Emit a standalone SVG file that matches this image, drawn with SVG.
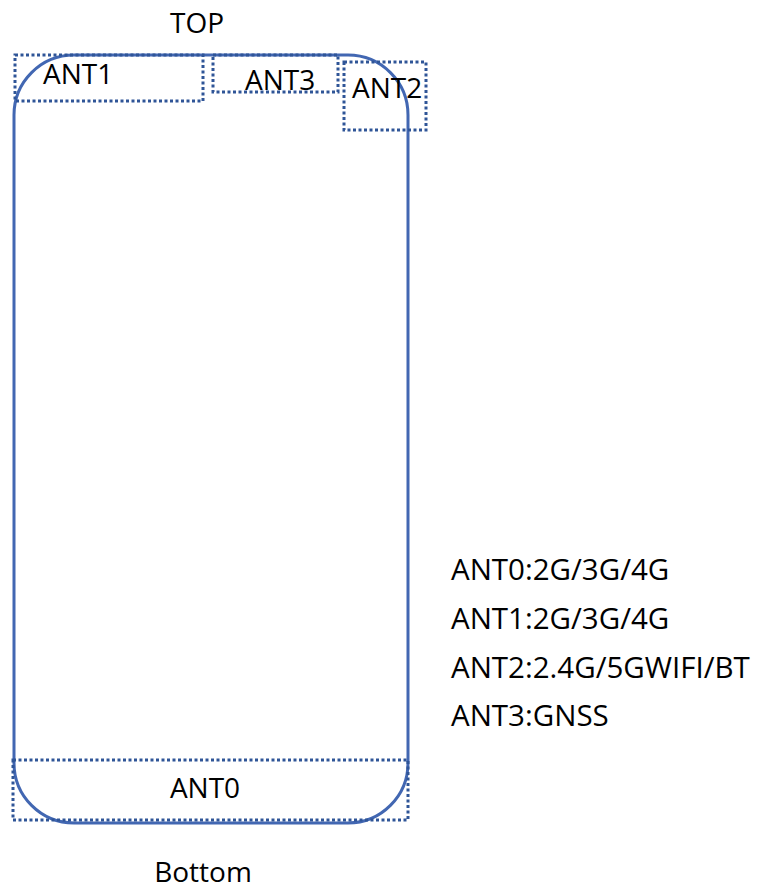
<svg xmlns="http://www.w3.org/2000/svg" width="761" height="892" viewBox="0 0 761 892">
<style>
.t{font-family:"Open Sans","Liberation Sans",Arial,sans-serif;fill:#000}
.lbl{font-size:28px}
.leg{font-size:29.5px}
.ant{fill:none;stroke:#2F5597;stroke-width:3;stroke-dasharray:3 2.5}
.body{fill:none;stroke:#4267B2;stroke-width:3}
</style>
<rect width="761" height="892" fill="#fff"/>
<g id="phone"><rect class="body" x="14" y="55" width="394" height="768" rx="60" ry="60"/></g>
<g id="ant1"><rect class="ant" x="15" y="55" width="188" height="46"/><text class="t lbl" x="43" y="84">ANT1</text></g>
<g id="ant3"><rect class="ant" x="213" y="55" width="125" height="37"/><text class="t lbl" x="245" y="90">ANT3</text></g>
<g id="ant2"><rect class="ant" x="344" y="62" width="82" height="68"/><text class="t lbl" x="352" y="98">ANT2</text></g>
<g id="ant0"><rect class="ant" x="13" y="760" width="395" height="60"/><text class="t lbl" x="205" y="798" text-anchor="middle">ANT0</text></g>
<g id="labels">
<text class="t lbl" x="197" y="33" text-anchor="middle">TOP</text>
<text class="t lbl" x="203" y="882" text-anchor="middle">Bottom</text>
</g>
<g id="legend">
<text class="t leg" x="451" y="580">ANT0:2G/3G/4G</text>
<text class="t leg" x="451" y="629">ANT1:2G/3G/4G</text>
<text class="t leg" x="451" y="678">ANT2:2.4G/5GWIFI/BT</text>
<text class="t leg" x="451" y="726">ANT3:GNSS</text>
</g>
<g id="connectors"></g>
</svg>
